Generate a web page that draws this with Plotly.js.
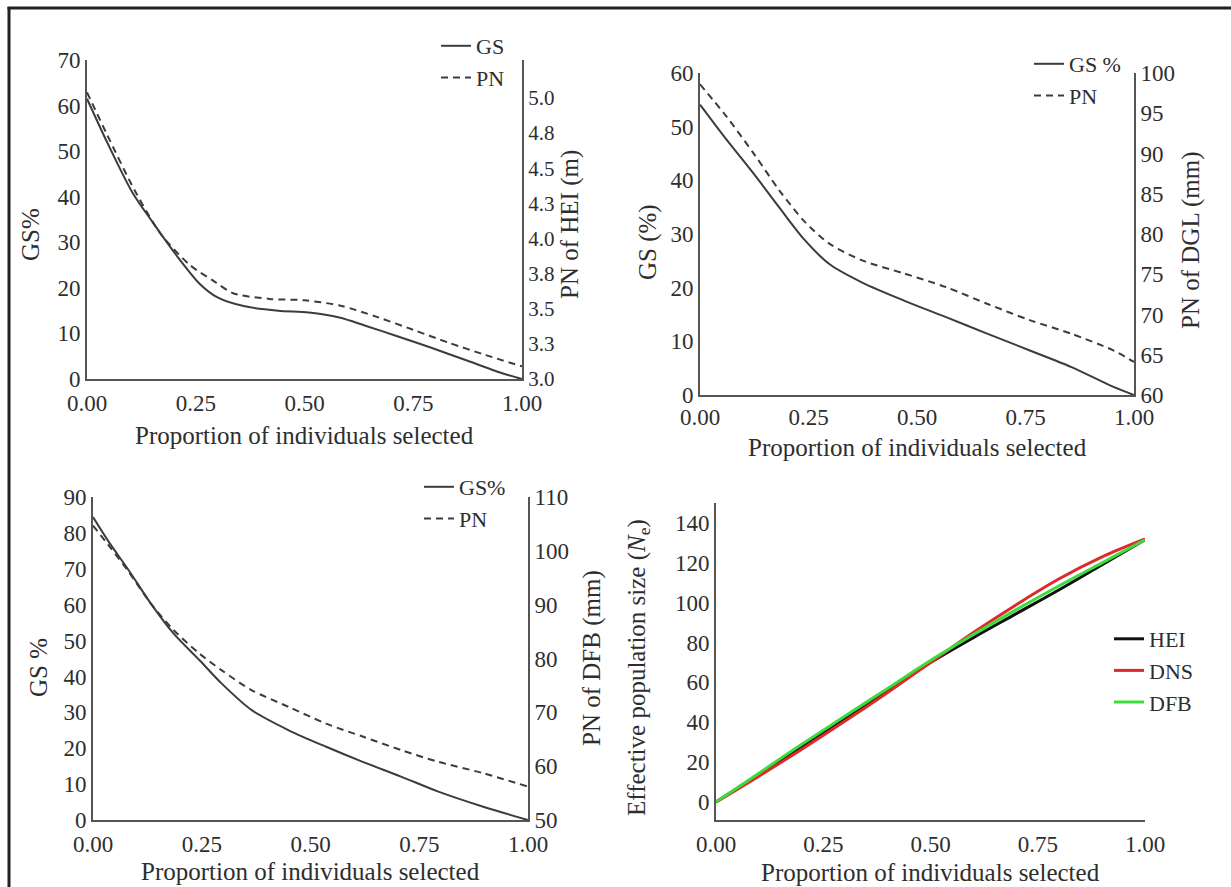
<!DOCTYPE html>
<html>
<head>
<meta charset="utf-8">
<script src="https://cdn.plot.ly/plotly-3.0.1.min.js"></script>
<style>html,body{margin:0;padding:0;background:#fff;}#chart{width:1231px;height:887px;}</style>
</head>
<body>
<div id="chart"></div>
<script>
// ---------- data ----------
// Panel 1: HEI
const p1_gs_x = [0, 0.046, 0.104, 0.154, 0.21, 0.26, 0.30, 0.36, 0.44, 0.51, 0.58, 0.64, 0.71, 0.79, 0.875, 0.96, 1.0];
const p1_gs_y = [61.5, 52, 41, 34, 26.6, 20.8, 17.9, 16, 15, 14.6, 13.5, 11.7, 9.5, 6.9, 4, 1.1, 0];
const p1_pn_x = [0, 0.046, 0.11, 0.17, 0.237, 0.295, 0.336, 0.42, 0.50, 0.585, 0.668, 0.75, 0.83, 0.917, 1.0];
const p1_pn_y = [5.04, 4.74, 4.34, 4.03, 3.81, 3.69, 3.61, 3.57, 3.56, 3.52, 3.44, 3.35, 3.26, 3.17, 3.09];
const p1_right_tickvals = [3.0, 3.25, 3.5, 3.75, 4.0, 4.25, 4.5, 4.75, 5.0];
const p1_right_ticktext = ['3.0', '3.3', '3.5', '3.8', '4.0', '4.3', '4.5', '4.8', '5.0'];

// Panel 2: DGL
const p2_x = [0, 0.058, 0.125, 0.183, 0.24, 0.298, 0.375, 0.47, 0.567, 0.663, 0.76, 0.856, 0.95, 1.0];
const p2_gs_y = [54.1, 47.9, 41.1, 34.9, 29.0, 24.4, 20.9, 17.6, 14.5, 11.4, 8.3, 5.2, 1.6, 0];
const p2_pn_y = [98.6, 94.8, 89.9, 85.4, 81.6, 78.8, 76.7, 75.1, 73.4, 71.3, 69.3, 67.6, 65.6, 64.1];

// Panel 3: DFB
const p3_x = [0, 0.039, 0.082, 0.133, 0.185, 0.245, 0.296, 0.365, 0.45, 0.536, 0.62, 0.708, 0.794, 0.897, 1.0];
const p3_gs_y = [84.4, 77, 69.6, 60.3, 52, 44.5, 38, 30.6, 25, 20.4, 16.2, 12.1, 7.9, 3.7, 0];
const p3_pn_y = [104.7, 100.7, 96.1, 90.2, 85.3, 80.9, 77.8, 74.1, 71, 67.9, 65.5, 63, 60.8, 58.7, 56.2];

// Panel 4: effective population size
const p4_x = [0, 0.1, 0.2, 0.3, 0.4, 0.5, 0.6, 0.7, 0.8, 0.9, 1.0];
const p4_hei = [0, 14, 28, 42, 56, 70, 82.5, 94.5, 106.5, 119, 131.5];
const p4_dns = [0, 13, 26.5, 40.5, 55, 70, 85, 99, 112, 123, 132];
const p4_dfb = [0, 14.5, 29, 43, 57, 71, 84, 96.5, 108.5, 120, 131.5];

const xTicks = [0, 0.25, 0.5, 0.75, 1.0];
const xTickText = ['0.00', '0.25', '0.50', '0.75', '1.00'];
const xTitle = 'Proportion of individuals selected';

// ---------- layout helpers ----------
const W = 1231, H = 887;
const fx = px => px / W;
const fy = py => 1 - py / H;
const FONT = '"Liberation Serif", "Times New Roman", serif';
const TXT = '#2e2e2e';
const LINE = '#3c3c3c';
const tickFont = {family: FONT, size: 23, color: TXT};
const titleFont = {family: FONT, size: 25, color: TXT};

function xAx(x0, x1, anchor, lblOff) {
  return {
    domain: [fx(x0), fx(x1)], range: [0, 1], anchor: anchor, automargin: false,
    showline: true, linecolor: '#555', linewidth: 2, showgrid: false, zeroline: false,
    ticks: '', tickvals: xTicks, ticktext: xTickText, tickfont: tickFont, ticklabelstandoff: lblOff
  };
}
function yAx(ytop, ybot, range, anchor, dtick) {
  return {
    domain: [fy(ybot), fy(ytop)], range: range, anchor: anchor, automargin: false,
    showline: true, linecolor: '#555', linewidth: 2, showgrid: false, zeroline: false,
    ticks: '', dtick: dtick, tick0: 0, tickfont: tickFont
  };
}
function yRight(over, anchor, range, extra) {
  return Object.assign({
    overlaying: over, side: 'right', anchor: anchor, range: range, automargin: false,
    showline: true, linecolor: '#555', linewidth: 2, showgrid: false, zeroline: false,
    ticks: '', tickfont: tickFont
  }, extra || {});
}
// axis titles as paper-anchored text, centred on given pixel positions
function title(text, px, py, vertical) {
  return {text: text, xref: 'paper', yref: 'paper', x: fx(px), y: fy(py),
          xanchor: 'center', yanchor: 'middle', showarrow: false,
          textangle: vertical ? -90 : 0, font: titleFont};
}

const solid = {color: LINE, width: 2, shape: 'spline', smoothing: 0.8};
const dashed = {color: LINE, width: 2, shape: 'spline', smoothing: 0.8, dash: '7px,5px'};

const traces = [
  {x: p1_gs_x, y: p1_gs_y, name: 'GS', mode: 'lines', line: solid, xaxis: 'x', yaxis: 'y', legend: 'legend'},
  {x: p1_pn_x, y: p1_pn_y, name: 'PN', mode: 'lines', line: dashed, xaxis: 'x', yaxis: 'y2', legend: 'legend'},
  {x: p2_x, y: p2_gs_y, name: 'GS %', mode: 'lines', line: solid, xaxis: 'x3', yaxis: 'y3', legend: 'legend2'},
  {x: p2_x, y: p2_pn_y, name: 'PN', mode: 'lines', line: dashed, xaxis: 'x3', yaxis: 'y4', legend: 'legend2'},
  {x: p3_x, y: p3_gs_y, name: 'GS%', mode: 'lines', line: solid, xaxis: 'x5', yaxis: 'y5', legend: 'legend3'},
  {x: p3_x, y: p3_pn_y, name: 'PN', mode: 'lines', line: dashed, xaxis: 'x5', yaxis: 'y6', legend: 'legend3'},
  {x: p4_x, y: p4_hei, name: 'HEI', mode: 'lines', line: {color: '#111', width: 3, shape: 'spline'}, xaxis: 'x7', yaxis: 'y7', legend: 'legend4'},
  {x: p4_x, y: p4_dns, name: 'DNS', mode: 'lines', line: {color: '#dd2a2a', width: 3, shape: 'spline'}, xaxis: 'x7', yaxis: 'y7', legend: 'legend4'},
  {x: p4_x, y: p4_dfb, name: 'DFB', mode: 'lines', line: {color: '#3ddc3d', width: 3, shape: 'spline'}, xaxis: 'x7', yaxis: 'y7', legend: 'legend4'}
];

const legendBase = {
  xanchor: 'left', yanchor: 'top', bgcolor: 'rgba(0,0,0,0)', borderwidth: 0,
  font: {family: FONT, size: 22, color: TXT}, tracegroupgap: 0, itemclick: false
};

const layout = {
  width: W, height: H,
  margin: {l: 0, r: 0, t: 0, b: 0, autoexpand: false},
  paper_bgcolor: '#fff', plot_bgcolor: '#fff',
  showlegend: true,
  font: {family: FONT, color: TXT},
  // Panel 1
  xaxis: xAx(87, 522, 'y', 2),
  yaxis: yAx(60, 379, [0, 70], 'x', 10),
  yaxis2: yRight('y', 'x', [3.0, 5.27], {tickvals: p1_right_tickvals, ticktext: p1_right_ticktext,
                                         tickfont: {family: FONT, size: 21, color: TXT}}),
  // Panel 2
  xaxis3: xAx(700, 1134, 'y3', 0),
  yaxis3: yAx(73, 395, [0, 60], 'x3', 10),
  yaxis4: yRight('y3', 'x3', [60, 100], {dtick: 5, tick0: 60}),
  // Panel 3
  xaxis5: xAx(93, 528, 'y5', 2),
  yaxis5: yAx(497, 820, [0, 90], 'x5', 10),
  yaxis6: yRight('y5', 'x5', [50, 110], {dtick: 10, tick0: 50}),
  // Panel 4
  xaxis7: xAx(716, 1145, 'y7', 2),
  yaxis7: yAx(503, 820, [-9, 150], 'x7', 20),
  legend: Object.assign({}, legendBase, {x: fx(436), y: fy(25)}),
  legend2: Object.assign({}, legendBase, {x: fx(1029), y: fy(43)}),
  legend3: Object.assign({}, legendBase, {x: fx(419), y: fy(466)}),
  legend4: Object.assign({}, legendBase, {x: fx(1109), y: fy(618)}),
  annotations: [
    title(xTitle, 304, 436, false),
    title('GS%', 30, 235, true),
    title('PN of HEI (m)', 570, 225, true),
    title(xTitle, 917, 447, false),
    title('GS (%)', 648, 242, true),
    title('PN of DGL (mm)', 1191, 240, true),
    title(xTitle, 310, 871, false),
    title('GS %', 38, 668, true),
    title('PN of DFB (mm)', 592, 658, true),
    title(xTitle, 930, 872, false),
    title('Effective population size (<i>N</i><sub>e</sub>)', 638, 668, true)
  ],
  shapes: [
    {type: 'line', xref: 'paper', yref: 'paper', x0: fx(9), x1: fx(9), y0: fy(7), y1: 0, line: {color: '#222', width: 3}},
    {type: 'line', xref: 'paper', yref: 'paper', x0: fx(7.5), x1: 1, y0: fy(8), y1: fy(8), line: {color: '#222', width: 3}}
  ]
};

Plotly.newPlot('chart', traces, layout, {staticPlot: true, displayModeBar: false});
</script>
</body>
</html>
